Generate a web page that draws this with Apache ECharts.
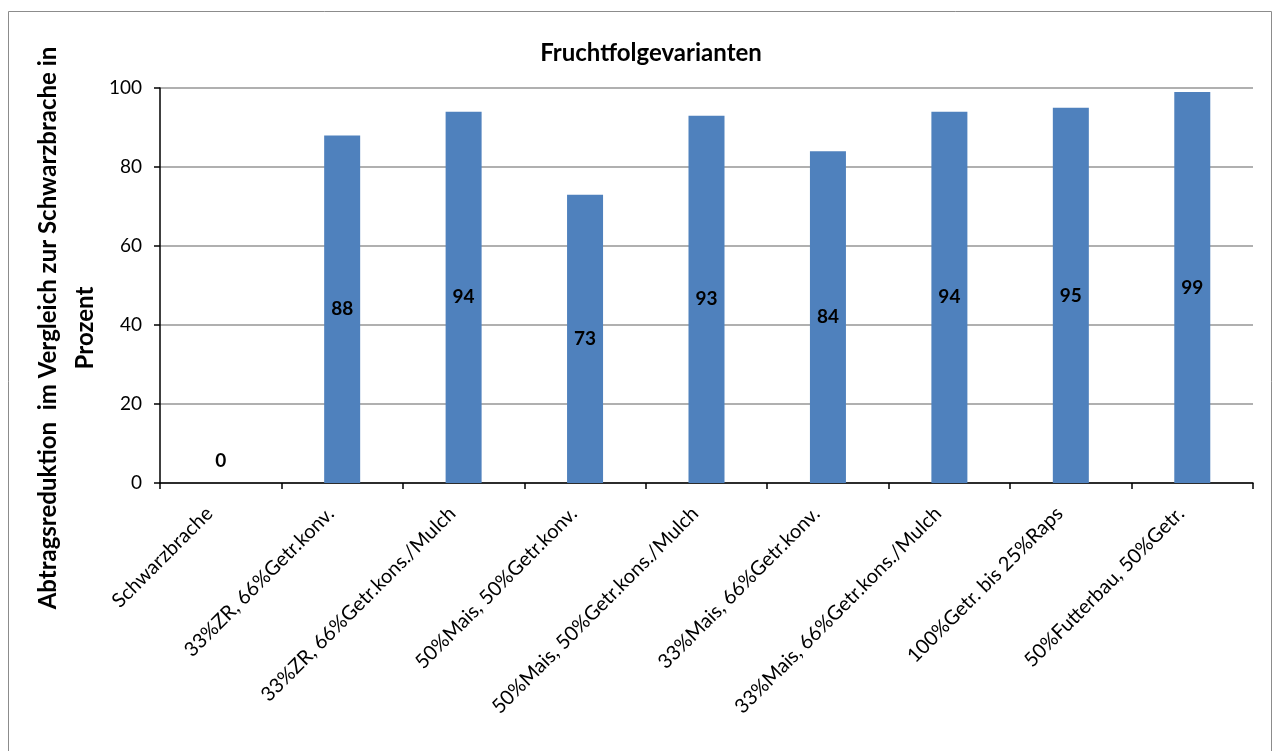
<!DOCTYPE html>
<html>
<head>
<meta charset="utf-8">
<script src="https://cdn.jsdelivr.net/npm/echarts@6/dist/echarts.min.js"></script>
<style>
  html, body { margin: 0; padding: 0; background: #fff; }
  #chart { width: 1275px; height: 751px; }
</style>
</head>
<body>
<div id="chart"></div>
<script>
// Crop rotation variants and the erosion reduction vs. bare fallow (%)
const categories = [
  'Schwarzbrache',
  '33%ZR, 66%Getr.konv.',
  '33%ZR, 66%Getr.kons./Mulch',
  '50%Mais, 50%Getr.konv.',
  '50%Mais, 50%Getr.kons./Mulch',
  '33%Mais, 66%Getr.konv.',
  '33%Mais, 66%Getr.kons./Mulch',
  '100%Getr. bis 25%Raps',
  '50%Futterbau, 50%Getr.'
];
const reduction = [0, 88, 94, 73, 93, 84, 94, 95, 99];
const yTicks = [0, 20, 40, 60, 80, 100];
const yTitle = 'Abtragsreduktion  im Vergleich zur Schwarzbrache in\nProzent';

const fontFamily = 'Lato, "Open Sans", sans-serif';

const chart = echarts.init(document.getElementById('chart'));
chart.setOption({
  animation: false,
  backgroundColor: '#fff',
  graphic: [
    {
      // outer chart frame
      type: 'rect',
      shape: { x: 8.5, y: 11.5, width: 1263, height: 760 },
      style: { fill: 'none', stroke: '#8c8c8c', lineWidth: 1 }
    },
    {
      // vertical axis title, two lines
      type: 'text',
      x: 67,
      y: 328,
      rotation: Math.PI / 2,
      style: {
        text: yTitle,
        fontFamily,
        fontSize: 24,
        fontWeight: 'bold',
        fill: '#000',
        lineHeight: 37,
        align: 'center',
        verticalAlign: 'middle'
      }
    }
  ],
  title: {
    text: 'Fruchtfolgevarianten',
    left: 646,
    top: 36,
    textAlign: 'center',
    textStyle: { fontFamily, fontSize: 24, fontWeight: 'bold', color: '#000' }
  },
  grid: { left: 160, right: 22, top: 88, bottom: 268, containLabel: false },
  xAxis: {
    type: 'category',
    data: categories,
    axisLine: { lineStyle: { color: '#000', width: 1.5 } },
    axisTick: { show: true, length: 6, lineStyle: { color: '#000', width: 1.5 } },
    axisLabel: {
      rotate: 45,
      interval: 0,
      margin: 16,
      padding: [0, 16, 0, 0],
      fontFamily,
      fontSize: 20,
      color: '#000'
    }
  },
  yAxis: {
    type: 'value',
    min: yTicks[0],
    max: yTicks[yTicks.length - 1],
    interval: 20,
    axisLine: { show: true, lineStyle: { color: '#000', width: 1.5 } },
    axisTick: { show: true, length: 6, lineStyle: { color: '#000', width: 1.5 } },
    axisLabel: { fontFamily, fontSize: 19, color: '#000', margin: 18 },
    splitLine: { lineStyle: { color: '#969696', width: 1.5 } }
  },
  series: [{
    type: 'bar',
    barWidth: 36,
    data: reduction.map(v => v === 0
      ? { value: v, label: { position: 'top', distance: 13 } }
      : v),
    itemStyle: { color: '#4F81BD' },
    label: {
      show: true,
      position: 'inside',
      fontFamily,
      fontSize: 19,
      fontWeight: 'bold',
      color: '#000'
    }
  }]
});
</script>
</body>
</html>
